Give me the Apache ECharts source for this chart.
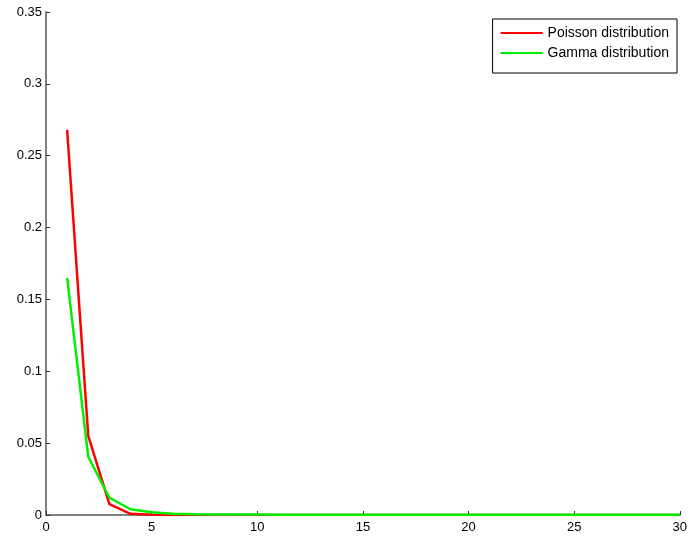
<!DOCTYPE html>
<html>
<head>
<meta charset="utf-8">
<script src="https://cdn.jsdelivr.net/npm/echarts@6/dist/echarts.min.js"></script>
<style>
  html, body { margin: 0; padding: 0; background: #fff; }
  #chart { width: 690px; height: 538px; }
</style>
</head>
<body>
<div id="chart"></div>
<script>
var xs = [1, 2, 3, 4, 5, 6, 7, 8, 9, 10, 11, 12, 13, 14, 15, 16, 17, 18, 19, 20, 21, 22, 23, 24, 25, 26, 27, 28, 29, 30];
var poisson = [0.268, 0.055, 0.0075, 0.0008, 0.0001, 0, 0, 0, 0, 0, 0, 0, 0, 0, 0, 0, 0, 0, 0, 0, 0, 0, 0, 0, 0, 0, 0, 0, 0, 0];
var gamma = [0.165, 0.0405, 0.012, 0.004, 0.0019, 0.0009, 0.0005, 0.0004, 0.0003, 0.0003, 0.0002, 0.0002, 0.0002, 0.0002, 0.0002, 0.0002, 0.0002, 0.0002, 0.0002, 0.0002, 0.0002, 0.0002, 0.0002, 0.0002, 0.0002, 0.0002, 0.0002, 0.0002, 0.0002, 0.0002];
var seriesNames = ['Poisson distribution', 'Gamma distribution'];

function pairs(ys) {
    return xs.map(function (x, i) { return [x, ys[i]]; });
}

var chart = echarts.init(document.getElementById('chart'));

var axisCommon = {
    axisLine: { show: true, lineStyle: { color: '#808080', width: 2 } },
    axisTick: { show: true, inside: true, length: 4, lineStyle: { color: '#333', width: 1 } },
    splitLine: { show: false }
};

var option = {
    animation: false,
    grid: { left: 46, right: 8, top: 12, bottom: 23, containLabel: false },
    legend: {
        orient: 'vertical',
        right: 13,
        top: 19,
        data: seriesNames,
        icon: 'rect',
        itemWidth: 42,
        itemHeight: 2,
        itemGap: 6,
        padding: [7, 8, 13, 8],
        borderColor: '#000',
        borderWidth: 1,
        backgroundColor: '#fff',
        textStyle: { color: '#000', fontFamily: 'Liberation Sans', fontSize: 14 }
    },
    xAxis: Object.assign({
        type: 'value',
        min: 0,
        max: 30,
        interval: 5
    }, axisCommon, {
        axisLabel: { color: '#000', fontFamily: 'Liberation Sans', fontSize: 13, margin: 6 }
    }),
    yAxis: Object.assign({
        type: 'value',
        min: 0,
        max: 0.35,
        interval: 0.05
    }, axisCommon, {
        axisLabel: { color: '#000', fontFamily: 'Liberation Sans', fontSize: 13, margin: 4 }
    }),
    series: [{
        name: seriesNames[0],
        type: 'line',
        data: pairs(poisson),
        showSymbol: false,
        symbol: 'none',
        itemStyle: { color: '#ff0000' },
        lineStyle: { color: '#ff0000', width: 2.5 }
    }, {
        name: seriesNames[1],
        type: 'line',
        data: pairs(gamma),
        showSymbol: false,
        symbol: 'none',
        itemStyle: { color: '#00ee00' },
        lineStyle: { color: '#00ee00', width: 2.5 }
    }]
};
chart.setOption(option);
</script>
</body>
</html>
